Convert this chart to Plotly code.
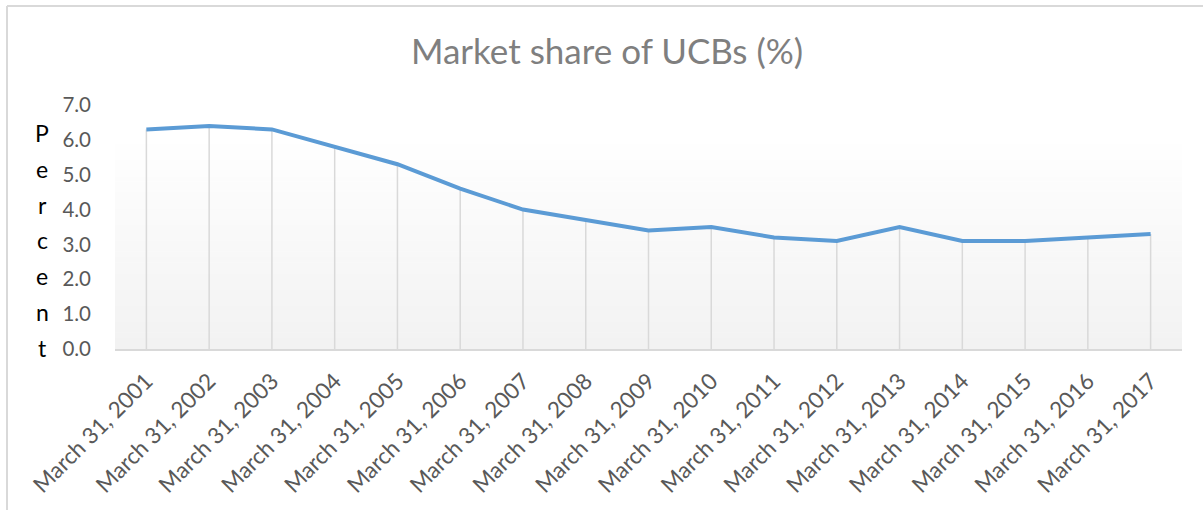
import plotly.graph_objects as go

# ── Data ─────────────────────────────────────────────────────────────────────
years = list(range(2001, 2018))
categories = [f"March 31, {y}" for y in years]
market_share = [6.3, 6.4, 6.3, 5.8, 5.3, 4.6, 4.0, 3.7, 3.4, 3.5,
                3.2, 3.1, 3.5, 3.1, 3.1, 3.2, 3.3]
y_ticks = [0, 1, 2, 3, 4, 5, 6, 7]
axis_letters = "Percent"

FONT = "Lato, 'Open Sans', sans-serif"
GRID_GREY = "#d9d9d9"
LABEL_GREY = "#595959"
LINE_BLUE = "#5b9bd5"

fig = go.Figure()

# drop lines from each point down to the axis
fig.add_trace(go.Scatter(
    x=categories,
    y=market_share,
    mode="markers",
    marker=dict(size=0, opacity=0),
    error_y=dict(type="data", symmetric=False, array=[0] * len(market_share),
                 arrayminus=market_share, width=0, thickness=1.5, color=GRID_GREY),
    hoverinfo="skip",
    showlegend=False,
))

fig.add_trace(go.Scatter(
    x=categories,
    y=market_share,
    mode="lines",
    line=dict(color=LINE_BLUE, width=4),
    name="Market share",
    showlegend=False,
))

# ── plot-area gradient (white at top, light grey at bottom) ──────────────────
shapes = []
n_bands = 40
grad_top = 0.885
for i in range(n_bands):
    y0 = grad_top * i / n_bands
    y1 = grad_top * (i + 1) / n_bands
    t = i / (n_bands - 1)
    c = int(round(242 + (255 - 242) * t))
    shapes.append(dict(type="rect", xref="paper", yref="paper",
                       x0=0, x1=1, y0=y0, y1=y1 + 0.002,
                       fillcolor=f"rgb({c},{c},{c})", line=dict(width=0),
                       layer="below"))

# chart border (top and left edges visible)
shapes.append(dict(type="line", xref="paper", yref="paper",
                   x0=-0.1012, x1=1.1, y0=1.406, y1=1.406,
                   line=dict(color=GRID_GREY, width=2)))
shapes.append(dict(type="line", xref="paper", yref="paper",
                   x0=-0.1012, x1=-0.1012, y0=1.406, y1=-0.7,
                   line=dict(color=GRID_GREY, width=2)))

# y-axis title written as stacked letters
annotations = []
for i, ch in enumerate(axis_letters):
    py = 133 + i * 35.8
    annotations.append(dict(
        text=ch, xref="paper", yref="paper",
        x=-0.0684, y=(349 - py) / 244,
        xanchor="center", yanchor="middle", showarrow=False,
        font=dict(family=FONT, size=23, color="#000000"),
    ))

fig.update_layout(
    width=1203,
    height=510,
    paper_bgcolor="white",
    plot_bgcolor="rgba(0,0,0,0)",
    margin=dict(l=115, r=21, t=105, b=161),
    font=dict(family=FONT, color=LABEL_GREY),
    title=dict(text="Market share of UCBs (%)", x=0.5046, xref="container",
               xanchor="center", y=1 - 52 / 510, yref="container",
               yanchor="middle",
               font=dict(family=FONT, size=35, color="#7f7f7f")),
    xaxis=dict(
        type="category",
        range=[-0.5, len(categories) - 0.5],
        tickangle=-45,
        tickfont=dict(family=FONT, size=22.5, color=LABEL_GREY),
        showgrid=False,
        showline=True,
        linecolor=GRID_GREY,
        linewidth=2,
        ticks="",
        ticklabelstandoff=8,
        zeroline=False,
        automargin=False,
    ),
    yaxis=dict(
        range=[0, 7],
        tickvals=y_ticks,
        tickformat=".1f",
        tickfont=dict(family=FONT, size=20.5, color=LABEL_GREY),
        showgrid=False,
        showline=False,
        zeroline=False,
        ticks="",
        ticklabelstandoff=23,
        automargin=False,
    ),
    shapes=shapes,
    annotations=annotations,
    showlegend=False,
)

fig.write_html("out.html", config={"displayModeBar": False},
               post_script="document.body.style.margin='0';")
